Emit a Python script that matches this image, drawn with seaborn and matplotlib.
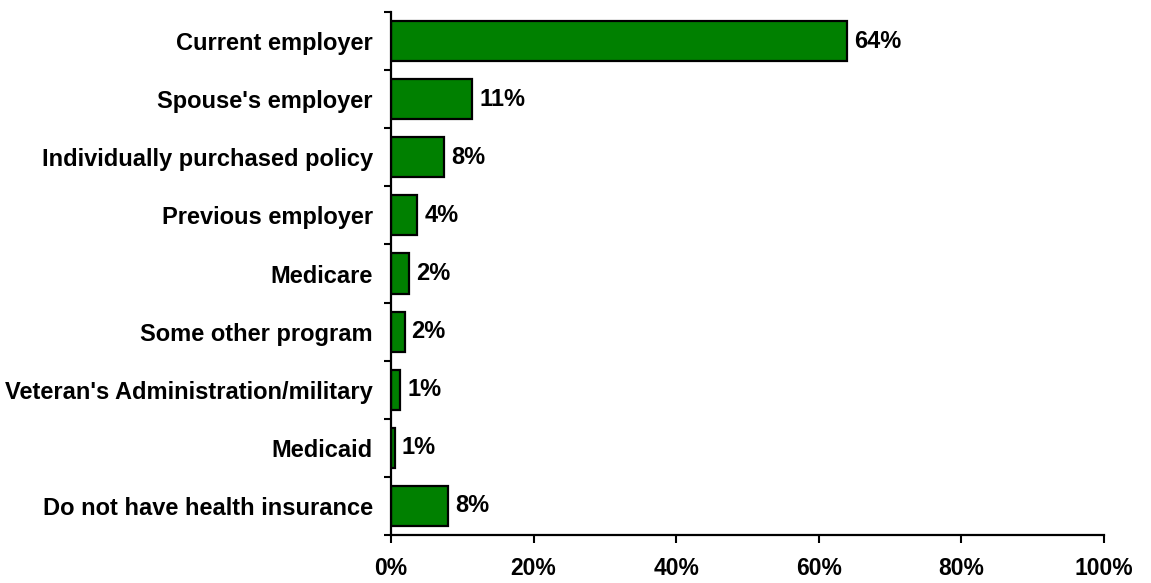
import matplotlib
matplotlib.use("Agg")
import matplotlib.pyplot as plt
import seaborn as sns
import pandas as pd
import numpy as np

sns.set_style("white")
plt.rcParams['font.family'] = ['Liberation Sans', 'DejaVu Sans']
plt.rcParams['text.color'] = 'black'
plt.rcParams['xtick.color'] = 'black'
plt.rcParams['ytick.color'] = 'black'

categories = ["Current employer", "Spouse's employer", "Individually purchased policy",
              "Previous employer", "Medicare", "Some other program",
              "Veteran's Administration/military", "Medicaid", "Do not have health insurance"]
values = [64.0, 11.4, 7.5, 3.7, 2.5, 1.9, 1.3, 0.5, 8.0]
value_labels = ["64%", "11%", "8%", "4%", "2%", "2%", "1%", "1%", "8%"]
x_ticks = [0, 20, 40, 60, 80, 100]
x_tick_labels = ["0%", "20%", "40%", "60%", "80%", "100%"]

df = pd.DataFrame({"source": categories, "pct": values})

fig = plt.figure(figsize=(11.51, 5.83), dpi=100)
ax = fig.add_axes([0.3397, 0.0823, 0.6195, 0.897])

sns.barplot(data=df, x="pct", y="source", orient="h", ax=ax,
            color="#008000", saturation=1, width=0.69,
            edgecolor="black", linewidth=1.6)

ax.bar_label(ax.containers[0], labels=value_labels, padding=5,
             fontsize=17, fontweight="bold", color="black")

ax.set_xlim(0, 100)
ax.set_ylim(len(categories) - 0.5, -0.5)
ax.set_xticks(x_ticks)
ax.set_xticklabels(x_tick_labels, fontsize=16.5, fontweight="bold")
ax.set_yticks(range(len(categories)))
ax.set_yticklabels(categories, fontsize=17, fontweight="bold")
ax.set_yticks(np.arange(-0.5, len(categories), 1), minor=True)

ax.tick_params(axis="y", which="major", length=0, pad=13)
ax.tick_params(axis="y", which="minor", length=5, width=1.5, direction="out", left=True)
ax.tick_params(axis="x", which="major", length=6, width=1.5, direction="out", bottom=True, pad=10)

ax.set_xlabel("")
ax.set_ylabel("")
for s in ["top", "right"]:
    ax.spines[s].set_visible(False)
for s in ["left", "bottom"]:
    ax.spines[s].set_color("black")
    ax.spines[s].set_linewidth(1.6)

fig.savefig("out.png", dpi=100)
